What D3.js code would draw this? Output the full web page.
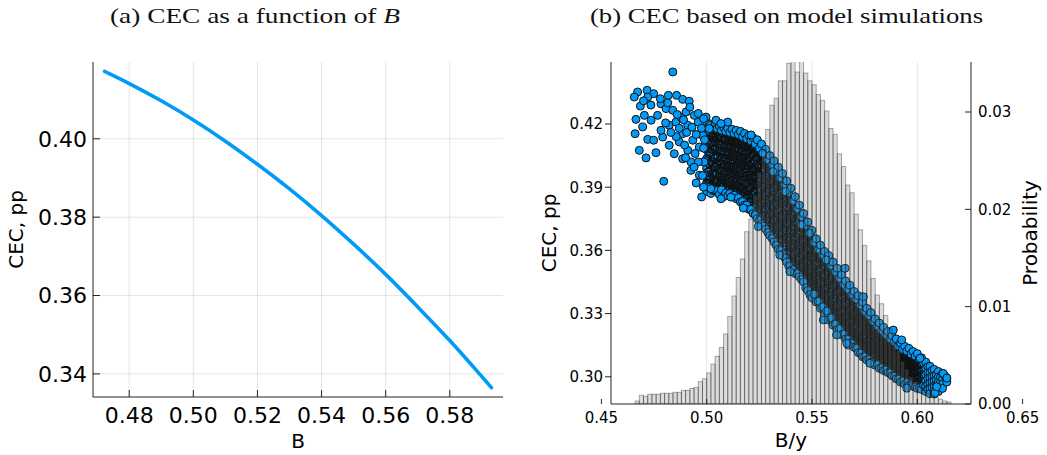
<!DOCTYPE html>
<html><head><meta charset="utf-8">
<script src="https://cdn.jsdelivr.net/npm/d3@7"></script>
<style>body{margin:0;background:#fff}svg{display:block}</style>
</head><body><svg id="c" width="1047" height="455"></svg>
<script>
// ---------- Panel (a) data ----------
const curveB   = [0.4723, 0.48, 0.49, 0.50, 0.51, 0.52, 0.53, 0.54, 0.55, 0.56, 0.57, 0.58, 0.59, 0.593];
const curveCEC = [0.4172, 0.4141, 0.4097, 0.4048, 0.3994, 0.3935, 0.3872, 0.3804, 0.3731, 0.3654, 0.3571, 0.3485, 0.3393, 0.3365];
const xTicksA = [0.48, 0.50, 0.52, 0.54, 0.56, 0.58];
const yTicksA = [0.34, 0.36, 0.38, 0.40];

// ---------- Panel (b) data ----------
const xTicksB = [0.45, 0.50, 0.55, 0.60, 0.65];
const yTicksB = [0.30, 0.33, 0.36, 0.39, 0.42];
const probTicks = [0.00, 0.01, 0.02, 0.03];

// histogram of B/y (bin left edges, width 0.002) and probabilities
const histLo = [0.466,0.468,0.470,0.472,0.474,0.476,0.478,0.480,0.482,0.484,0.486,0.488,0.490,0.492,0.494,0.496,0.498,
  0.500,0.502,0.504,0.506,0.508,0.510,0.512,0.514,0.516,0.518,0.520,0.522,0.524,0.526,0.528,0.530,0.532,0.534,0.536,0.538,
  0.540,0.542,0.544,0.546,0.548,0.550,0.552,0.554,0.556,0.558,0.560,0.562,0.564,0.566,0.568,0.570,0.572,0.574,0.576,0.578,
  0.580,0.582,0.584,0.586,0.588,0.590,0.592,0.594,0.596,0.598,0.600,0.602,0.604,0.606,0.608,0.610,0.612,0.614];
const histP = [0.0003,0.0009,0.0008,0.0010,0.0010,0.0010,0.0011,0.0011,0.0011,0.0012,0.0012,0.0014,0.0014,0.0016,0.0017,0.0023,0.0026,
  0.0032,0.0041,0.0049,0.0058,0.0072,0.0090,0.0111,0.0130,0.0149,0.0177,0.0190,0.0215,0.0238,0.0260,0.0282,0.0307,0.0314,0.0332,0.0332,0.0350,
  0.0365,0.0341,0.0360,0.0340,0.0332,0.0328,0.0318,0.0312,0.0301,0.0283,0.0277,0.0257,0.0244,0.0225,0.0217,0.0195,0.0179,0.0163,0.0147,0.0129,
  0.0112,0.0103,0.0091,0.0077,0.0062,0.0055,0.0044,0.0036,0.0028,0.0023,0.0018,0.0014,0.0011,0.0009,0.0007,0.0005,0.0003,0.0002];
const histWidth = 0.002;

// scatter: sparse points (left tail and band edges) as [B/y, CEC]
const tailPoints = [[0.4839,0.4447],[0.4672,0.4352],[0.4717,0.4360],[0.4656,0.4328],[0.4748,0.4344],[0.4720,0.4328],[0.4818,0.4336],[0.4857,0.4336],
 [0.4886,0.4317],[0.4917,0.4308],[0.4685,0.4285],[0.4664,0.4222],[0.4660,0.4154],[0.4680,0.4075],[0.4712,0.4039],[0.4759,0.4064],[0.4796,0.3928],
 [0.4976,0.3854],[0.4783,0.4296],[0.4807,0.4273],[0.4839,0.4265],[0.4704,0.4241],[0.4696,0.4186],[0.4736,0.4218],[0.4767,0.4241],[0.4720,0.4127],
 [0.4748,0.4123],[0.4791,0.4138],[0.4783,0.4170],[0.4822,0.4194],[0.4854,0.4209],[0.4822,0.4099],[0.4846,0.4059],[0.4878,0.4233],[0.4902,0.4257],
 [0.4941,0.4241],[0.4910,0.4194],[0.4886,0.4154],[0.4870,0.4115],[0.4910,0.4075],[0.4886,0.4035],[0.4925,0.4020],[0.4934,0.4123],[0.4965,0.4091],
 [0.4925,0.3980],[0.4965,0.3957],[0.4987,0.4020],[0.4960,0.4209],[0.4997,0.4233],[0.5012,0.4178],[0.4981,0.4146],[0.5020,0.3893],[0.5068,0.3845],
 [0.5115,0.3853],[0.5044,0.4218],[0.5100,0.4209],[0.5068,0.4202],[0.4890,0.4220],[0.4905,0.4160],[0.4930,0.4185],[0.4950,0.4150],[0.4895,0.4100],
 [0.4945,0.4060],[0.4960,0.4020],[0.4985,0.4085],[0.4975,0.4180],[0.4990,0.4125],[0.4870,0.4180],[0.4855,0.4140],[0.4900,0.4040],[0.4940,0.3995],
 [0.4980,0.3955],[0.4950,0.3920],[0.4985,0.3900],[0.4830,0.4160],[0.4805,0.4205],[0.4860,0.4245],[0.4920,0.4280],[0.4960,0.4250],[0.4985,0.4225],
 [0.4735,0.4290],[0.4700,0.4310],[0.4780,0.4320],[0.4815,0.4300]];
const edgePoints = [[0.5395,0.3499],[0.5245,0.3713],[0.5347,0.3578],[0.5554,0.3270],[0.5617,0.3199],[0.5672,0.3151],[0.5775,0.3064],[0.5950,0.2946],
 [0.6084,0.2922],[0.5657,0.3515],[0.5744,0.3380],[0.5886,0.3222],[0.5926,0.3175],[0.6013,0.3088],[0.5568,0.3555],[0.5450,0.3721],[0.5489,0.3681],
 [0.5373,0.3879],[0.5314,0.3974],[0.5266,0.4061],[0.5211,0.4148],[0.5174,0.3801],[0.6123,0.3016],[0.6140,0.2994],[0.6092,0.2953],[0.5665,0.3159]];
// scatter: dense band, columns of CEC values per B/y value
const bandB = [0.500,0.502,0.504,0.506,0.508,0.510,0.512,0.514,0.516,0.518,0.520,0.522,0.524,0.526,0.528,0.530,0.532,0.534,0.536,0.538,
  0.540,0.542,0.544,0.546,0.548,0.550,0.552,0.554,0.556,0.558,0.560,0.562,0.564,0.566,0.568,0.570,0.572,0.574,0.576,0.578,
  0.580,0.582,0.584,0.586,0.588,0.590,0.592,0.594,0.596,0.598,0.600,0.602,0.604,0.606,0.608,0.610,0.612,0.614];
const bandCEC = [
 [0.421,0.4165,0.413,0.408,0.4035,0.399,0.3955,0.392,0.388],
 [0.4195,0.4155,0.411,0.4065,0.402,0.3985,0.394,0.3905,0.387],
 [0.4205,0.417,0.412,0.4085,0.404,0.400,0.3965,0.3925,0.3885],
 [0.419,0.4145,0.4105,0.4065,0.4025,0.3985,0.3945,0.3905,0.3865],
 [0.4185,0.4155,0.4125,0.409,0.4055,0.4025,0.3995,0.3965,0.3935,0.3905,0.3875,0.3855],
 [0.418,0.4145,0.4115,0.4085,0.405,0.4015,0.3985,0.3955,0.392,0.389,0.386,0.407],
 [0.4175,0.414,0.411,0.4075,0.4045,0.401,0.398,0.395,0.3915,0.3885,0.3855,0.403],
 [0.417,0.4135,0.4105,0.407,0.404,0.4005,0.3975,0.394,0.391,0.3875,0.3845,0.409],
 [0.4165,0.413,0.4095,0.4065,0.403,0.3995,0.3965,0.393,0.3895,0.386,0.383,0.401],
 [0.4155,0.412,0.409,0.4055,0.402,0.3985,0.395,0.3915,0.388,0.385,0.3815,0.4005],
 [0.4145,0.411,0.4075,0.404,0.4005,0.397,0.3935,0.390,0.3865,0.383,0.3795,0.395],
 [0.4135,0.4095,0.406,0.4025,0.399,0.395,0.3915,0.388,0.3845,0.381,0.3775,0.397],
 [0.4125,0.4085,0.4045,0.4005,0.397,0.393,0.389,0.3855,0.382,0.3785,0.375,0.391],
 [0.4105,0.4065,0.4025,0.3985,0.3945,0.391,0.387,0.383,0.3795,0.376,0.3725,0.389],
 [0.408,0.404,0.400,0.396,0.392,0.388,0.384,0.380,0.3765,0.373,0.370,0.386],
 [0.405,0.401,0.397,0.393,0.389,0.385,0.381,0.377,0.3735,0.370,0.367],
 [0.4025,0.3985,0.3945,0.3905,0.3865,0.3825,0.3785,0.3745,0.371,0.3675,0.364],
 [0.3995,0.3955,0.3915,0.3875,0.3835,0.3795,0.3755,0.372,0.368,0.3645,0.3605],
 [0.3965,0.3925,0.3885,0.385,0.381,0.377,0.373,0.369,0.3655,0.362,0.358],
 [0.393,0.389,0.385,0.381,0.377,0.373,0.3695,0.366,0.362,0.358,0.3545],
 [0.3895,0.3855,0.3815,0.3775,0.374,0.370,0.366,0.362,0.358,0.3545,0.3505],
 [0.3855,0.3815,0.378,0.374,0.370,0.3665,0.363,0.3595,0.356,0.3525,0.349],
 [0.3815,0.378,0.3745,0.371,0.3675,0.364,0.3605,0.357,0.3535,0.3505,0.3475],
 [0.3775,0.374,0.3705,0.367,0.3635,0.360,0.357,0.3535,0.3505,0.3475,0.345],
 [0.3735,0.370,0.3665,0.363,0.360,0.3565,0.353,0.350,0.3465,0.3435,0.341],
 [0.3695,0.366,0.3625,0.359,0.356,0.3525,0.349,0.346,0.343,0.340,0.3375],
 [0.3655,0.3615,0.358,0.3545,0.351,0.3475,0.344,0.3405,0.3355],
 [0.3625,0.359,0.355,0.3515,0.348,0.3445,0.341,0.3375,0.3325],
 [0.3595,0.356,0.3525,0.349,0.3455,0.342,0.3385,0.335,0.3295],
 [0.3575,0.354,0.3505,0.347,0.3435,0.340,0.3365,0.333,0.327],
 [0.3545,0.351,0.3475,0.344,0.3405,0.337,0.3335,0.3295,0.3245],
 [0.3515,0.348,0.3445,0.341,0.3375,0.334,0.3305,0.327,0.3225],
 [0.3485,0.345,0.3415,0.338,0.335,0.3315,0.328,0.3245,0.320],
 [0.3455,0.342,0.339,0.3355,0.332,0.329,0.3255,0.322,0.318],
 [0.3435,0.340,0.3365,0.333,0.330,0.3265,0.323,0.3195,0.316],
 [0.3405,0.337,0.334,0.3305,0.3275,0.324,0.321,0.3175,0.314],
 [0.3385,0.335,0.332,0.3285,0.3255,0.322,0.319,0.3155,0.3115],
 [0.3355,0.3325,0.329,0.326,0.323,0.3195,0.3165,0.313,0.3095],
 [0.3325,0.3295,0.3265,0.3235,0.320,0.317,0.314,0.311,0.308],
 [0.3305,0.3275,0.3245,0.3215,0.3185,0.3155,0.3125,0.3095,0.307],
 [0.3275,0.3245,0.3215,0.3185,0.316,0.313,0.310,0.3075,0.3055],
 [0.3255,0.3225,0.319,0.316,0.313,0.310,0.307,0.304],
 [0.3235,0.3205,0.3175,0.3145,0.3115,0.3085,0.3055,0.303],
 [0.3215,0.3185,0.3155,0.3125,0.310,0.307,0.3045,0.302],
 [0.3195,0.3165,0.3135,0.311,0.308,0.3055,0.303,0.3005],
 [0.318,0.315,0.312,0.3095,0.3065,0.304,0.3015,0.299],
 [0.316,0.313,0.3105,0.308,0.305,0.3025,0.300,0.2975],
 [0.3145,0.3115,0.309,0.3065,0.304,0.3015,0.299,0.2965],
 [0.3135,0.311,0.3085,0.306,0.3035,0.301,0.2985,0.296],
 [0.312,0.3095,0.307,0.3045,0.302,0.2995,0.297,0.2955],
 [0.311,0.3085,0.306,0.3035,0.301,0.2985,0.296,0.2945],
 [0.309,0.306,0.3025,0.2995,0.2965,0.294],
 [0.307,0.304,0.301,0.298,0.2955,0.293],
 [0.305,0.302,0.2995,0.297,0.2945,0.292],
 [0.3035,0.3005,0.298,0.2955,0.293,0.2918],
 [0.3025,0.300,0.2975,0.295,0.293],
 [0.3015,0.299,0.2965,0.2945],
 [0.2994,0.2975]];
// second, interleaved set of band columns
const coreB = [0.501,0.503,0.505,0.507,0.509,0.511,0.513,0.515,0.517,0.519,0.521,0.523,0.525,0.527,0.529,0.531,0.533,0.535,0.537,0.539,
  0.541,0.543,0.545,0.547,0.549,0.551,0.553,0.555,0.557,0.559,0.561,0.563,0.565,0.567,0.569,0.571,0.573,0.575,0.577,0.579,
  0.581,0.583,0.585,0.587,0.589,0.591,0.593,0.595,0.597,0.599,0.601,0.603,0.605,0.607,0.609,0.611,0.613];
const coreCEC = [
 [0.4188,0.4148,0.4105,0.4058,0.4012,0.3972,0.3938,0.3898],
 [0.4182,0.4138,0.4095,0.4045,0.4005,0.3962,0.3922,0.3885],
 [0.4178,0.4128,0.4088,0.4045,0.4005,0.3965,0.3925,0.3885],
 [0.4170,0.4135,0.4105,0.4072,0.4040,0.4008,0.3978,0.3948,0.3918,0.3888],
 [0.4165,0.4130,0.4100,0.4068,0.4035,0.4000,0.3970,0.3938,0.3905,0.3872],
 [0.4160,0.4125,0.4092,0.4060,0.4028,0.3995,0.3965,0.3935,0.3902,0.3870],
 [0.4155,0.4120,0.4088,0.4055,0.4022,0.3990,0.3958,0.3925,0.3895,0.3862],
 [0.4150,0.4115,0.4080,0.4050,0.4015,0.3980,0.3950,0.3915,0.3882,0.3850],
 [0.4140,0.4105,0.4072,0.4038,0.4005,0.3968,0.3935,0.3900,0.3865,0.3832],
 [0.4130,0.4095,0.4060,0.4025,0.3990,0.3955,0.3920,0.3885,0.3850,0.3815],
 [0.4120,0.4080,0.4045,0.4010,0.3975,0.3940,0.3900,0.3865,0.3830,0.3795],
 [0.4105,0.4065,0.4028,0.3990,0.3952,0.3912,0.3872,0.3838,0.3802,0.3768],
 [0.4085,0.4045,0.4005,0.3965,0.3928,0.3890,0.3850,0.3812,0.3778,0.3742],
 [0.4060,0.4020,0.3980,0.3940,0.3900,0.3862,0.3822,0.3782,0.3748,0.3715],
 [0.4030,0.3990,0.3950,0.3910,0.3870,0.3830,0.3790,0.3752,0.3718,0.3685],
 [0.4005,0.3965,0.3925,0.3885,0.3845,0.3805,0.3765,0.3728,0.3692,0.3658],
 [0.3975,0.3935,0.3895,0.3855,0.3815,0.3775,0.3738,0.3700,0.3662,0.3625],
 [0.3945,0.3905,0.3865,0.3830,0.3790,0.3750,0.3712,0.3672,0.3638,0.3600],
 [0.3912,0.3872,0.3832,0.3792,0.3752,0.3712,0.3678,0.3640,0.3600,0.3565],
 [0.3875,0.3835,0.3795,0.3758,0.3720,0.3680,0.3640,0.3600,0.3562,0.3525],
 [0.3835,0.3798,0.3760,0.3720,0.3682,0.3648,0.3612,0.3578,0.3542,0.3508],
 [0.3798,0.3762,0.3728,0.3692,0.3658,0.3622,0.3588,0.3552,0.3520,0.3490],
 [0.3758,0.3722,0.3688,0.3652,0.3618,0.3585,0.3552,0.3520,0.3490,0.3462],
 [0.3718,0.3682,0.3648,0.3615,0.3582,0.3548,0.3515,0.3482,0.3450,0.3422],
 [0.3678,0.3642,0.3608,0.3575,0.3542,0.3508,0.3475,0.3445,0.3415,0.3390],
 [0.3638,0.3602,0.3568,0.3535,0.3498,0.3462,0.3428,0.3392],
 [0.3605,0.3568,0.3532,0.3498,0.3462,0.3428,0.3392,0.3358],
 [0.3578,0.3542,0.3508,0.3472,0.3438,0.3402,0.3368,0.3332],
 [0.3555,0.3522,0.3488,0.3452,0.3418,0.3382,0.3348,0.3312],
 [0.3528,0.3492,0.3458,0.3422,0.3388,0.3352,0.3318,0.3280],
 [0.3498,0.3462,0.3428,0.3392,0.3358,0.3322,0.3288,0.3250],
 [0.3468,0.3432,0.3398,0.3365,0.3332,0.3298,0.3262,0.3228],
 [0.3438,0.3405,0.3372,0.3338,0.3305,0.3272,0.3238,0.3202],
 [0.3415,0.3382,0.3348,0.3315,0.3282,0.3248,0.3212,0.3178],
 [0.3390,0.3355,0.3322,0.3290,0.3258,0.3225,0.3192,0.3158],
 [0.3368,0.3335,0.3302,0.3270,0.3238,0.3205,0.3172,0.3135],
 [0.3340,0.3308,0.3275,0.3245,0.3212,0.3180,0.3148,0.3112],
 [0.3310,0.3280,0.3250,0.3218,0.3185,0.3155,0.3125,0.3095],
 [0.3290,0.3260,0.3230,0.3200,0.3170,0.3140,0.3110,0.3082],
 [0.3262,0.3232,0.3202,0.3172,0.3145,0.3115,0.3088,0.3062],
 [0.3240,0.3208,0.3175,0.3145,0.3115,0.3085,0.3058],
 [0.3220,0.3190,0.3160,0.3130,0.3100,0.3070,0.3042],
 [0.3200,0.3170,0.3140,0.3112,0.3085,0.3058,0.3032],
 [0.3180,0.3150,0.3122,0.3095,0.3068,0.3042,0.3018],
 [0.3165,0.3135,0.3108,0.3080,0.3052,0.3028,0.3002],
 [0.3145,0.3118,0.3092,0.3065,0.3038,0.3012,0.2988],
 [0.3130,0.3102,0.3078,0.3052,0.3028,0.3002,0.2978],
 [0.3122,0.3098,0.3072,0.3048,0.3022,0.2998,0.2972],
 [0.3108,0.3082,0.3058,0.3032,0.3008,0.2982,0.2962],
 [0.3098,0.3072,0.3048,0.3022,0.2998,0.2972,0.2952],
 [0.3085,0.3058,0.3030,0.3000,0.2972,0.2948],
 [0.3065,0.3038,0.3010,0.2982,0.2958],
 [0.3048,0.3020,0.2992,0.2965,0.2940],
 [0.3030,0.3002,0.2975,0.2950],
 [0.3010,0.2985,0.2960],
 [0.2998,0.2972],
 [0.3005]];
// third set: the darkest interior of the band
const denseB = [0.5005,0.5015,0.5025,0.5035,0.5045,0.5055,0.5065,0.5075,0.5085,0.5095,0.5105,0.5115,0.5125,0.5135,0.5145,0.5155,0.5165,0.5175,0.5185,0.5195,
  0.5205,0.5215,0.5225,0.5235,0.5245,0.5255,0.5265,0.5275,0.5285,0.5295,0.5305,0.5315,0.5325,0.5335,0.5345,0.5355,0.5365,0.5375,0.5385,0.5395,
  0.5405,0.5415,0.5425,0.5435,0.5445,0.5455,0.5465,0.5475,0.5485,0.5495,0.5505,0.5515,0.5525,0.5535,0.5545,0.5555,0.5565,0.5575,0.5585,0.5595,
  0.5605,0.5615,0.5625,0.5635,0.5645,0.5655,0.5665,0.5675,0.5685,0.5695,0.5705,0.5715,0.5725,0.5735,0.5745,0.5755,0.5765,0.5775,0.5785,0.5795,
  0.5805,0.5815,0.5825,0.5835,0.5845,0.5855,0.5865,0.5875,0.5885,0.5895,0.5905,0.5915,0.5925,0.5935,0.5945,0.5955,0.5965,0.5975,0.5985];
const denseCEC = [
 [0.4150,0.4088,0.4030,0.3972,0.3918],[0.4122,0.4065,0.4008,0.3950,0.3920],[0.4140,0.4080,0.4020,0.3962,0.3912],[0.4112,0.4052,0.3995,0.3940,0.4142],
 [0.4135,0.4075,0.4015,0.3958,0.3922],[0.4105,0.4045,0.3985,0.3930,0.4140],[0.4130,0.4068,0.4010,0.3952,0.3905],[0.4100,0.4040,0.3980,0.3925,0.4135],
 [0.4125,0.4062,0.4002,0.3945,0.3895],[0.4095,0.4035,0.3975,0.3918,0.4128],[0.4120,0.4058,0.3998,0.3940,0.3892],[0.4090,0.4030,0.3970,0.3912,0.4125],
 [0.4115,0.4052,0.3992,0.3935,0.3890],[0.4085,0.4025,0.3965,0.3908,0.4118],[0.4110,0.4048,0.3988,0.3930,0.3882],[0.4080,0.4020,0.3960,0.3902,0.4112],
 [0.4105,0.4042,0.3982,0.3922,0.3872],[0.4072,0.4012,0.3952,0.3892,0.4105],[0.4098,0.4035,0.3972,0.3912,0.3855],[0.4065,0.4002,0.3940,0.3880,0.4095],
 [0.4088,0.4022,0.3958,0.3895,0.3835],[0.4052,0.3988,0.3925,0.3862,0.4085],[0.4078,0.4010,0.3945,0.3878,0.3815],[0.4040,0.3975,0.3908,0.3842,0.4072],
 [0.4065,0.3995,0.3928,0.3860,0.3795],[0.4025,0.3958,0.3890,0.3822,0.4060],[0.4048,0.3978,0.3908,0.3838,0.3768],[0.4005,0.3935,0.3865,0.3795,0.4035],
 [0.4022,0.3952,0.3882,0.3812,0.3745],[0.3980,0.3910,0.3840,0.3772,0.4010],[0.3992,0.3922,0.3852,0.3782,0.3715],[0.3950,0.3880,0.3810,0.3742,0.3985],
 [0.3968,0.3898,0.3828,0.3758,0.3688],[0.3922,0.3852,0.3782,0.3712,0.3955],[0.3938,0.3868,0.3798,0.3728,0.3650],[0.3892,0.3822,0.3752,0.3682,0.3925],
 [0.3908,0.3838,0.3768,0.3698,0.3625],[0.3862,0.3792,0.3722,0.3652,0.3892],[0.3872,0.3802,0.3732,0.3662,0.3592],[0.3822,0.3752,0.3682,0.3612,0.3855],
 [0.3838,0.3768,0.3698,0.3628,0.3550],[0.3785,0.3718,0.3650,0.3585,0.3820],[0.3798,0.3730,0.3662,0.3598,0.3535],[0.3748,0.3682,0.3615,0.3550,0.3780],
 [0.3758,0.3692,0.3628,0.3565,0.3520],[0.3710,0.3645,0.3580,0.3520,0.3740],[0.3718,0.3655,0.3592,0.3530,0.3495],[0.3670,0.3605,0.3542,0.3480,0.3700],
 [0.3678,0.3615,0.3552,0.3490,0.3455],[0.3630,0.3568,0.3505,0.3445,0.3660],[0.3638,0.3575,0.3515,0.3455,0.3420],[0.3592,0.3532,0.3472,0.3412,0.3620],
 [0.3598,0.3538,0.3478,0.3420,0.3400],[0.3560,0.3500,0.3442,0.3385,0.3585],[0.3568,0.3508,0.3450,0.3395,0.3370],[0.3528,0.3470,0.3412,0.3355,0.3555],
 [0.3538,0.3480,0.3422,0.3365,0.3340],[0.3502,0.3445,0.3388,0.3330,0.3530],[0.3518,0.3460,0.3402,0.3345,0.3315],[0.3478,0.3420,0.3362,0.3305,0.3505],
 [0.3488,0.3430,0.3372,0.3315,0.3290],[0.3448,0.3390,0.3332,0.3280,0.3475],[0.3458,0.3400,0.3342,0.3290,0.3270],[0.3418,0.3362,0.3305,0.3258,0.3445],
 [0.3428,0.3372,0.3315,0.3265,0.3245],[0.3390,0.3335,0.3280,0.3235,0.3415],[0.3398,0.3342,0.3288,0.3242,0.3225],[0.3365,0.3310,0.3258,0.3215,0.3390],
 [0.3378,0.3322,0.3268,0.3220,0.3205],[0.3340,0.3288,0.3238,0.3195,0.3365],[0.3348,0.3295,0.3245,0.3198,0.3185],[0.3315,0.3262,0.3212,0.3172,0.3340],
 [0.3328,0.3275,0.3225,0.3178,0.3160],[0.3290,0.3240,0.3192,0.3150,0.3315],[0.3298,0.3248,0.3198,0.3155,0.3140],[0.3262,0.3212,0.3168,0.3132,0.3285],
 [0.3268,0.3220,0.3172,0.3135,0.3125],[0.3238,0.3190,0.3148,0.3118,0.3260],[0.3248,0.3200,0.3158,0.3128,0.3112],[0.3212,0.3168,0.3128,0.3102,0.3235],
 [0.3218,0.3172,0.3132,0.3098],[0.3190,0.3148,0.3110,0.3210],[0.3198,0.3155,0.3115,0.3085],[0.3170,0.3128,0.3092,0.3190],
 [0.3178,0.3135,0.3098,0.3075],[0.3150,0.3110,0.3075,0.3170],[0.3158,0.3118,0.3082,0.3065],[0.3130,0.3092,0.3058,0.3150],
 [0.3138,0.3098,0.3065,0.3048],[0.3112,0.3075,0.3042,0.3132],[0.3122,0.3085,0.3050,0.3032],[0.3095,0.3058,0.3025,0.3115],
 [0.3102,0.3065,0.3032,0.3018],[0.3078,0.3042,0.3012,0.3098],[0.3088,0.3050,0.3020,0.3008],[0.3065,0.3030,0.3002,0.3085],
 [0.3078,0.3042,0.3010],[0.3055,0.3022,0.3072],[0.3062,0.3028,0.2998]];

// ---------- drawing ----------
const svg = d3.select("#c");
const BLUE = "#009AF9", AXIS = "#222", GRID = "rgba(0,0,0,0.1)", MSTROKE = "#111";
const SANS = "DejaVu Sans", SERIF = "Liberation Serif";

// ===== Panel (a) =====
const A = {l: 93, r: 503, t: 62, b: 397};
const xA = d3.scaleLinear().domain([0.4687, 0.5966]).range([A.l, A.r]);
const yA = d3.scaleLinear().domain([0.3341, 0.4196]).range([A.b, A.t]);
const gA = svg.append("g");
gA.selectAll(".gx").data(xTicksA).join("line").attr("x1", d => xA(d)).attr("x2", d => xA(d))
  .attr("y1", A.t).attr("y2", A.b).attr("stroke", GRID).attr("stroke-width", 1);
gA.selectAll(".gy").data(yTicksA).join("line").attr("class","gy").attr("y1", d => yA(d)).attr("y2", d => yA(d))
  .attr("x1", A.l).attr("x2", A.r).attr("stroke", GRID).attr("stroke-width", 1);
gA.append("path").datum(curveB.map((b, i) => [b, curveCEC[i]]))
  .attr("d", d3.line().x(d => xA(d[0])).y(d => yA(d[1])).curve(d3.curveCatmullRom.alpha(0.5)))
  .attr("fill", "none").attr("stroke", BLUE).attr("stroke-width", 3.6).attr("stroke-linecap", "round");
gA.append("line").attr("x1", A.l).attr("x2", A.l).attr("y1", A.t).attr("y2", A.b).attr("stroke", AXIS);
gA.append("line").attr("x1", A.l).attr("x2", A.r).attr("y1", A.b).attr("y2", A.b).attr("stroke", AXIS);
xTicksA.forEach(t => {
  gA.append("line").attr("x1", xA(t)).attr("x2", xA(t)).attr("y1", A.b).attr("y2", A.b - 7).attr("stroke", AXIS);
  gA.append("text").attr("x", xA(t)).attr("y", 422.5).attr("text-anchor", "middle")
    .attr("font-family", SANS).attr("font-size", 22).text(d3.format(".2f")(t));
});
yTicksA.forEach(t => {
  gA.append("line").attr("x1", A.l).attr("x2", A.l + 7).attr("y1", yA(t)).attr("y2", yA(t)).attr("stroke", AXIS);
  gA.append("text").attr("x", 87).attr("y", yA(t)).attr("dy", "0.36em").attr("text-anchor", "end")
    .attr("font-family", SANS).attr("font-size", 22).text(d3.format(".2f")(t));
});
gA.append("text").attr("x", (A.l + A.r) / 2).attr("y", 448).attr("text-anchor", "middle")
  .attr("font-family", SANS).attr("font-size", 20).text("B");
gA.append("text").attr("transform", `translate(23,${(A.t + A.b) / 2}) rotate(-90)`).attr("text-anchor", "middle")
  .attr("font-family", SANS).attr("font-size", 20).text("CEC, pp");
const tA = gA.append("text").attr("x", 110).attr("y", 23).attr("textLength", 290).attr("lengthAdjust", "spacingAndGlyphs")
  .attr("font-family", SERIF).attr("font-size", 22).attr("fill", "#111");
tA.append("tspan").text("(a) CEC as a function of ");
tA.append("tspan").attr("font-style", "italic").text("B");

// ===== Panel (b) =====
const P = {l: 611, r: 971, t: 62, b: 404};
const xB = d3.scaleLinear().domain([0.45, 0.65]).range([601.4, 1022.6]);
const yB = d3.scaleLinear().domain([0.30, 0.42]).range([376.8, 124]);
const yP = d3.scaleLinear().domain([0, 0.03]).range([P.b, 112]);
svg.append("defs").append("clipPath").attr("id", "clipB").append("rect")
  .attr("x", P.l).attr("y", P.t).attr("width", P.r - P.l).attr("height", P.b - P.t);
const gB = svg.append("g");
const plot = gB.append("g").attr("clip-path", "url(#clipB)");
plot.selectAll(".gxb").data(xTicksB).join("line").attr("x1", d => xB(d)).attr("x2", d => xB(d))
  .attr("y1", P.t).attr("y2", P.b).attr("stroke", GRID).attr("stroke-width", 1);
// split the band into its interior and its outer rim (top/bottom of each column, plus the sparse right end)
const inner = [], outer = [];
function addColumns(bs, cols, rim) {
  bs.forEach((b, i) => {
    const mx = d3.max(cols[i]), mn = d3.min(cols[i]);
    cols[i].forEach(c => ((rim && (c === mx || c === mn)) || b >= 0.6035 ? outer : inner).push([b, c]));
  });
}
addColumns(bandB, bandCEC, true);
addColumns(coreB, coreCEC, true);
addColumns(denseB, denseCEC, false);
inner.sort((p, q) => p[0] - q[0]);
outer.sort((p, q) => p[0] - q[0]);
// interior: fills, then outlines, so overlapping outlines darken the core
plot.append("g").selectAll("circle").data(inner).join("circle").attr("cx", d => xB(d[0])).attr("cy", d => yB(d[1]))
  .attr("r", 4.5).attr("fill", BLUE);
plot.append("g").selectAll("circle").data(inner).join("circle").attr("cx", d => xB(d[0])).attr("cy", d => yB(d[1]))
  .attr("r", 4).attr("fill", "none").attr("stroke", MSTROKE).attr("stroke-width", 1);
// rim and sparse points drawn normally on top
plot.append("g").selectAll("circle").data(outer.concat(tailPoints, edgePoints)).join("circle")
  .attr("cx", d => xB(d[0])).attr("cy", d => yB(d[1]))
  .attr("r", 4).attr("fill", BLUE).attr("stroke", MSTROKE).attr("stroke-width", 1);
// histogram on top
plot.selectAll(".bar").data(histLo.map((lo, i) => [lo, histP[i]])).join("rect")
  .attr("x", d => xB(d[0])).attr("width", d => xB(d[0] + histWidth) - xB(d[0]))
  .attr("y", d => yP(d[1])).attr("height", d => P.b - yP(d[1]))
  .attr("fill", "rgba(128,128,128,0.28)").attr("stroke", "rgba(0,0,0,0.33)").attr("stroke-width", 1);
// axes
gB.append("line").attr("x1", P.l).attr("x2", P.l).attr("y1", P.t).attr("y2", P.b).attr("stroke", AXIS);
gB.append("line").attr("x1", P.l).attr("x2", P.r).attr("y1", P.b).attr("y2", P.b).attr("stroke", AXIS);
gB.append("line").attr("x1", P.r).attr("x2", P.r).attr("y1", P.t).attr("y2", P.b).attr("stroke", AXIS);
xTicksB.forEach(t => {
  gB.append("line").attr("x1", xB(t)).attr("x2", xB(t)).attr("y1", P.b).attr("y2", P.b - 5).attr("stroke", AXIS);
  gB.append("text").attr("x", xB(t)).attr("y", 423).attr("text-anchor", "middle")
    .attr("font-family", SANS).attr("font-size", 15).text(d3.format(".2f")(t));
});
yTicksB.forEach(t => {
  gB.append("line").attr("x1", P.l - 6).attr("x2", P.l).attr("y1", yB(t)).attr("y2", yB(t)).attr("stroke", AXIS);
  gB.append("text").attr("x", 603).attr("y", yB(t)).attr("dy", "0.36em").attr("text-anchor", "end")
    .attr("font-family", SANS).attr("font-size", 15).text(d3.format(".2f")(t));
});
probTicks.forEach(t => {
  gB.append("line").attr("x1", P.r - 6).attr("x2", P.r).attr("y1", yP(t)).attr("y2", yP(t)).attr("stroke", AXIS);
  gB.append("text").attr("x", 978).attr("y", yP(t)).attr("dy", "0.36em").attr("text-anchor", "start")
    .attr("font-family", SANS).attr("font-size", 15).text(d3.format(".2f")(t));
});
gB.append("text").attr("x", (P.l + P.r) / 2).attr("y", 447).attr("text-anchor", "middle")
  .attr("font-family", SANS).attr("font-size", 20).text("B/y");
gB.append("text").attr("transform", `translate(556,${(P.t + P.b) / 2}) rotate(-90)`).attr("text-anchor", "middle")
  .attr("font-family", SANS).attr("font-size", 20).text("CEC, pp");
gB.append("text").attr("transform", `translate(1037,${(P.t + P.b) / 2}) rotate(-90)`).attr("text-anchor", "middle")
  .attr("font-family", SANS).attr("font-size", 20).text("Probability");
gB.append("text").attr("x", 590).attr("y", 23).attr("textLength", 393).attr("lengthAdjust", "spacingAndGlyphs")
  .attr("font-family", SERIF).attr("font-size", 22).attr("fill", "#111").text("(b) CEC based on model simulations");
</script></body></html>
